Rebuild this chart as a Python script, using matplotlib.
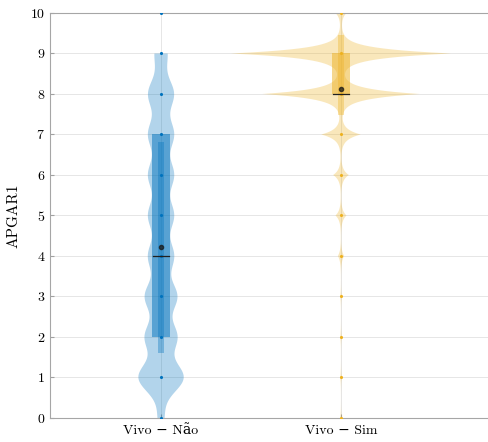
import numpy as np
import matplotlib
matplotlib.use("Agg")
import matplotlib.pyplot as plt

# Dados
grupos = ["Vivo − Não", "Vivo − Sim"]
notas = np.arange(0, 11)
contagem_nao = [1, 7, 5, 5, 4, 4, 4, 4, 4, 2, 1]
contagem_sim = [1, 1, 1, 1, 4, 7, 10, 25, 100, 140, 7]

# estatísticas
q1 = [2.0, 8.0]
mediana = [4.0, 8.0]
q3 = [7.0, 9.0]
media = [4.21, 8.13]
bigode_inf = [1.6, 7.48]
bigode_sup = [6.82, 9.46]
limite_violino = [(0, 9), (0, 10)]

cores = ["#0072BD", "#EDB120"]
nucleo = ["gauss", "laplace"]
banda = [0.35, 0.13]
meia_largura = [0.126, 0.611]

plt.rcParams["font.family"] = ["cmr10", "DejaVu Serif"]
plt.rcParams["axes.formatter.use_mathtext"] = True


def kde(contagem, h, y, tipo):
    dens = np.zeros_like(y)
    for v, c in zip(notas, contagem):
        u = np.abs(y - v) / h
        if tipo == "gauss":
            dens += c * np.exp(-0.5 * u ** 2)
        else:
            dens += c * np.exp(-u)
    return dens


fig = plt.figure(figsize=(4.88, 4.42), dpi=100)
ax = fig.add_axes([0.1025, 0.0543, 0.8975, 0.9163])

contagens = [contagem_nao, contagem_sim]
for i, cont in enumerate(contagens):
    x0 = i + 1
    lo, hi = limite_violino[i]
    y = np.linspace(lo, hi, 401)
    d = kde(cont, banda[i], y, nucleo[i])
    d = d / d.max() * meia_largura[i]
    xs = np.concatenate([x0 - d, (x0 + d)[::-1]])
    ys = np.concatenate([y, y[::-1]])
    ax.fill(xs, ys, color=cores[i], alpha=0.3, lw=0, zorder=2)

    # caixa (IQR)
    ax.fill_between([x0 - 0.051, x0 + 0.051], q1[i], q3[i],
                    color=cores[i], alpha=0.5, lw=0, zorder=3)
    # bigode
    ax.fill_between([x0 - 0.015, x0 + 0.015], bigode_inf[i], bigode_sup[i],
                    color=cores[i], alpha=0.35, lw=0, zorder=4)
    # pontos
    pres = [v for v, c in zip(notas, cont) if c > 0]
    ax.scatter([x0] * len(pres), pres, s=5, color=cores[i], lw=0, zorder=5)
    # mediana e média
    ax.plot([x0 - 0.045, x0 + 0.045], [mediana[i], mediana[i]], color="#202020",
            lw=0.9, zorder=6)
    ax.plot(x0, media[i], "o", color="#1a1a1a", ms=3, alpha=0.75, zorder=6)

ax.set_xlim(0.383, 2.817)
ax.set_ylim(0, 10)
ax.set_xticks([1, 2])
ax.set_xticklabels(grupos, fontsize=10)
ax.set_yticks(range(0, 11))
ax.tick_params(axis="y", labelsize=10, direction="in", length=3, color="#a0a0a0")
ax.tick_params(axis="x", direction="in", length=3, color="#a0a0a0", pad=5)
ax.set_ylabel("APGAR1", fontsize=11, labelpad=7)

ax.grid(True, color="#e6e6e6", lw=0.7, zorder=0)
ax.set_axisbelow(True)
for s in ["left", "bottom", "top"]:
    ax.spines[s].set_color("#a6a6a6")
ax.spines["right"].set_visible(False)

fig.savefig("out.png", dpi=100)
